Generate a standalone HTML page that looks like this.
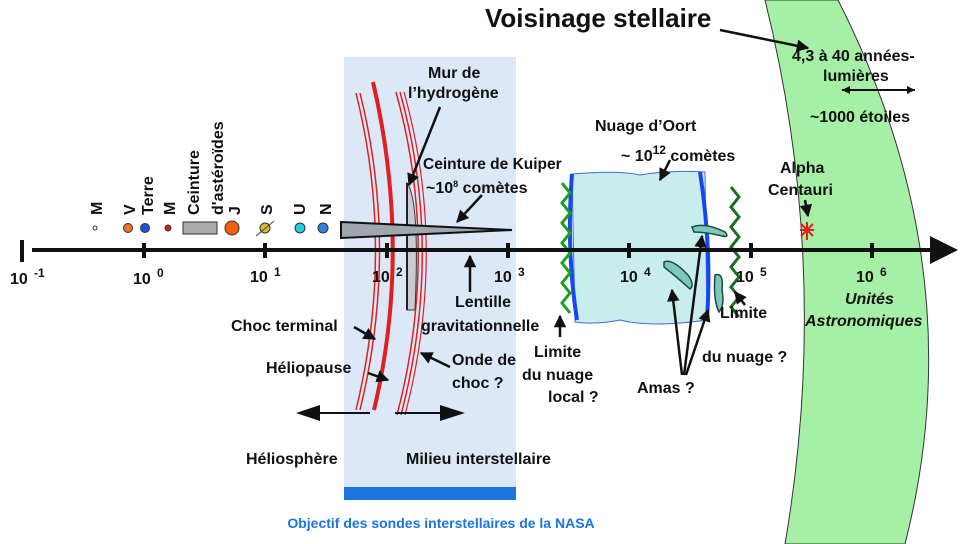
<!DOCTYPE html>
<html><head><meta charset="utf-8"><style>
body{margin:0;background:#fff}
svg{display:block}
text{font-family:"Liberation Sans",Arial,sans-serif;font-weight:bold;fill:#111}
</style></head><body>
<svg width="960" height="544" viewBox="0 0 960 544" xmlns="http://www.w3.org/2000/svg">
<defs>
<marker id="ah" viewBox="0 0 10 10" refX="9" refY="5" markerWidth="5" markerHeight="5" orient="auto"><path d="M0,0L10,5L0,10z" fill="#111"/></marker>
</defs>
<path d="M765,0 Q832,270 785,544 L905,544 Q975,270 838,0 Z" fill="#a6f0a6" stroke="#333" stroke-width="1"/>
<rect x="344" y="57" width="172" height="443" fill="#dbe8f8"/>
<rect x="344" y="487" width="172" height="13" fill="#1a74e0"/>
<text x="441" y="528" font-size="14" text-anchor="middle" style="fill:#1a74e0">Objectif des sondes interstellaires de la NASA</text>
<path d="M572,174 Q620,170 640,175 Q670,170 705,172 L707,320 Q650,328 620,320 Q595,325 575,322 Z" fill="#c9ecec" stroke="#3d6de0" stroke-width="1"/>
<path d="M572,174 Q566,250 577,320" fill="none" stroke="#1747f0" stroke-width="4"/>
<path d="M700,172 Q712,250 707,318" fill="none" stroke="#1747f0" stroke-width="4"/>
<path d="M562,183 l8,10 l-8,10 l8,10 l-8,10 l8,10 l-8,10 l8,10 l-8,10 l8,10 l-8,10 l8,10 l-8,10 l8,10" fill="none" stroke="#18a020" stroke-width="3"/>
<path d="M731,187 l8,10 l-8,10 l8,10 l-8,10 l8,10 l-8,10 l8,10 l-8,10 l8,10 l-8,10 l8,10 l-8,10 l8,10" fill="none" stroke="#1f6b28" stroke-width="3"/>
<path d="M692,227 Q705,222 725,232 Q730,238 722,236 Q705,232 694,232 Z" fill="#7cc8bb" stroke="#1e4a40" stroke-width="1.5"/>
<path d="M664,262 Q672,258 688,275 Q695,285 690,289 Q678,278 664,267 Z" fill="#7cc8bb" stroke="#1e4a40" stroke-width="1.5"/>
<path d="M715,275 Q724,272 722,290 Q725,305 719,312 Q713,300 715,275 Z" fill="#7cc8bb" stroke="#1e4a40" stroke-width="1.5"/>
<g fill="none" stroke="#e02020">
<path d="M356,93 Q395,250 356,410" stroke-width="1.5"/>
<path d="M360,93 Q399,250 360,410" stroke-width="1.5"/>
<path d="M373,82 Q412,250 374,410" stroke-width="4"/>
<path d="M396,92 Q440,250 397,415" stroke-width="1.5"/>
<path d="M400,92 Q444,250 401,415" stroke-width="1.5"/>
<path d="M404,92 Q448,250 405,415" stroke-width="1.2"/>
</g>
<path d="M407,183 Q420,200 415,310 L407,310 Z" fill="#c8ccd2" stroke="#333" stroke-width="1"/>
<line x1="407" y1="183" x2="407" y2="310" stroke="#222" stroke-width="2"/>
<path d="M341,222 L512,230 L341,238 Z" fill="#a0a6ae" stroke="#111" stroke-width="2"/>
<line x1="32" y1="250" x2="930" y2="250" stroke="#111" stroke-width="4"/>
<path d="M930,236 L958,250 L930,264 Z" fill="#111"/>
<g stroke="#111" stroke-width="4">
<line x1="22" y1="240" x2="22" y2="262"/>
<line x1="144" y1="243" x2="144" y2="258"/><line x1="265" y1="243" x2="265" y2="258"/>
<line x1="387" y1="243" x2="387" y2="258"/><line x1="508" y1="243" x2="508" y2="258"/>
<line x1="629" y1="243" x2="629" y2="258"/><line x1="751" y1="243" x2="751" y2="258"/>
<line x1="872" y1="243" x2="872" y2="258"/>
</g>
<g font-size="16">
<text x="10" y="284">10</text><text x="34" y="277" font-size="12">-1</text>
<text x="133" y="284">10</text><text x="157" y="277" font-size="12">0</text>
<text x="250" y="282">10</text><text x="274" y="276" font-size="12">1</text>
<text x="372" y="282">10</text><text x="396" y="276" font-size="12">2</text>
<text x="494" y="282">10</text><text x="518" y="276" font-size="12">3</text>
<text x="620" y="282">10</text><text x="644" y="276" font-size="12">4</text>
<text x="736" y="282">10</text><text x="760" y="276" font-size="12">5</text>
<text x="856" y="282">10</text><text x="880" y="276" font-size="12">6</text>
</g>
<circle cx="95" cy="228" r="2" fill="#fff" stroke="#333"/>
<circle cx="128" cy="228" r="4.5" fill="#f07020" stroke="#333"/>
<circle cx="145" cy="228" r="4.5" fill="#2050e0" stroke="#333"/>
<circle cx="168" cy="228" r="3" fill="#d02030" stroke="#333"/>
<rect x="183" y="222" width="34" height="12" fill="#aaa" stroke="#333"/>
<circle cx="232" cy="228" r="7" fill="#f06010" stroke="#333"/>
<circle cx="265" cy="228" r="5" fill="#d8c030" stroke="#333"/><line x1="256" y1="236" x2="274" y2="221" stroke="#444"/>
<circle cx="300" cy="228" r="5" fill="#20d0e0" stroke="#333"/>
<circle cx="323" cy="228" r="5" fill="#3080e0" stroke="#333"/>
<g font-size="16">
<text transform="translate(102,215) rotate(-90)">M</text>
<text transform="translate(135,215) rotate(-90)">V</text>
<text transform="translate(153,215) rotate(-90)">Terre</text>
<text transform="translate(175,215) rotate(-90)">M</text>
<text transform="translate(199,215) rotate(-90)">Ceinture</text>
<text transform="translate(223,215) rotate(-90)">d'astéroïdes</text>
<text transform="translate(240,215) rotate(-90)">J</text>
<text transform="translate(272,215) rotate(-90)">S</text>
<text transform="translate(305,215) rotate(-90)">U</text>
<text transform="translate(331,215) rotate(-90)">N</text>
</g>
<text x="485" y="27" font-size="26">Voisinage stellaire</text>
<g font-size="16">
<text x="428" y="78">Mur de</text><text x="408" y="98">l’hydrogène</text>
<text x="423" y="169" font-size="15.5">Ceinture de Kuiper</text><text x="426" y="193">~10<tspan font-size="9" dy="-6">8</tspan><tspan dy="6"> comètes</tspan></text>
<text x="595" y="131">Nuage d’Oort</text>
<text x="621" y="161">~ 10<tspan font-size="12" dy="-7">12</tspan><tspan dy="7"> comètes</tspan></text>
<text x="780" y="173">Alpha</text><text x="768" y="195">Centauri</text>
<text x="792" y="61">4,3 à 40 années-</text><text x="823" y="81">lumières</text>
<text x="810" y="122">~1000 étoiles</text>
<text x="845" y="304" font-style="italic">Unités</text>
<text x="805" y="326" font-style="italic">Astronomiques</text>
<text x="455" y="307">Lentille</text><text x="421" y="331">gravitationnelle</text>
<text x="231" y="331">Choc terminal</text>
<text x="266" y="373">Héliopause</text>
<text x="452" y="365">Onde de</text><text x="452" y="388">choc ?</text>
<text x="534" y="357">Limite</text><text x="522" y="380">du nuage</text><text x="548" y="402">local ?</text>
<text x="720" y="318">Limite</text><text x="702" y="362">du nuage ?</text>
<text x="637" y="393">Amas ?</text>
<text x="246" y="464">Héliosphère</text>
<text x="406" y="464">Milieu interstellaire</text>
</g>
<g stroke="#111" stroke-width="2.5" marker-end="url(#ah)" fill="none">
<line x1="440" y1="107" x2="409" y2="185"/>
<line x1="482" y1="195" x2="457" y2="222"/>
<line x1="670" y1="160" x2="660" y2="180"/>
<line x1="805" y1="200" x2="808" y2="216"/>
<line x1="720" y1="30" x2="808" y2="48"/>
<line x1="470" y1="292" x2="470" y2="256"/>
<line x1="560" y1="337" x2="560" y2="316"/>
<line x1="354" y1="327" x2="375" y2="339"/>
<line x1="368" y1="373" x2="388" y2="380"/>
<line x1="450" y1="367" x2="421" y2="353"/>
<line x1="745" y1="305" x2="735" y2="292"/>
<line x1="682" y1="375" x2="672" y2="290"/>
<line x1="684" y1="375" x2="702" y2="236"/>
<line x1="686" y1="375" x2="708" y2="310"/>
</g>
<line x1="842" y1="90" x2="915" y2="90" stroke="#111" stroke-width="2"/>
<path d="M842,90 l8,-4 v8z M915,90 l-8,-4 v8z" fill="#111"/>
<line x1="320" y1="413" x2="370" y2="413" stroke="#111" stroke-width="2"/>
<path d="M296,413 L320,405 L320,421 Z" fill="#111"/>
<line x1="395" y1="413" x2="440" y2="413" stroke="#111" stroke-width="2"/>
<path d="M465,413 L440,405 L440,421 Z" fill="#111"/>
<g stroke="#e02020" stroke-width="2"><line x1="800" y1="230" x2="814" y2="230"/><line x1="807" y1="222" x2="807" y2="240"/><line x1="801" y1="224" x2="813" y2="236"/><line x1="813" y1="224" x2="801" y2="236"/></g>
</svg>
</body></html>
